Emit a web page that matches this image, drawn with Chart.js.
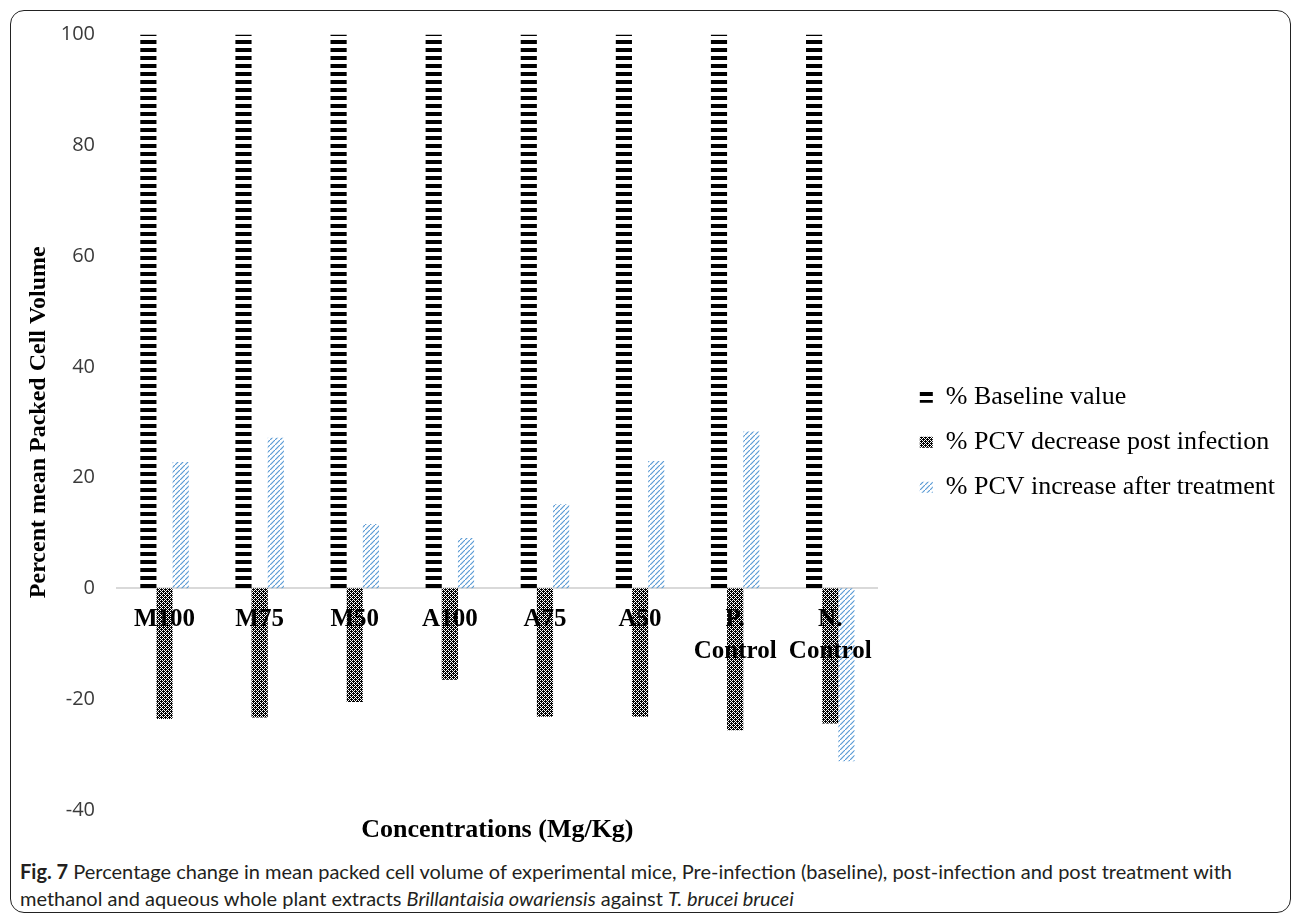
<!DOCTYPE html>
<html>
<head>
<meta charset="utf-8">
<title>Fig. 7</title>
<script src="https://cdn.jsdelivr.net/npm/chart.js@4.4.1/dist/chart.umd.min.js"></script>
<style>
    html, body { margin: 0; padding: 0; background: #fff; }
    body { width: 1293px; height: 915px; position: relative; overflow: hidden; }
    .figure-frame {
        position: absolute; left: 10px; top: 10px; width: 1281px; height: 903px;
        border: 1px solid #222; border-radius: 14px; box-sizing: border-box;
    }
    .pcv-chart { position: absolute; left: 0; top: 0; }
    .figure-caption {
        position: absolute; left: 20px; top: 858px;
        font-family: Lato, "Noto Sans", sans-serif; font-size: 20px; line-height: 27px;
        color: #231f20; white-space: nowrap;
    }
    .figure-caption b { font-weight: 700; }
</style>
</head>
<body>
<div class="figure-frame"></div>
<canvas class="pcv-chart" id="pcv" width="1293" height="850"></canvas>
<div class="figure-caption">
    <b>Fig. 7</b> Percentage change in mean packed cell volume of experimental mice, Pre-infection (baseline), post-infection and post treatment with<br>
    methanol and aqueous whole plant extracts <i>Brillantaisia owariensis</i> against <i>T. brucei brucei</i>
</div>
<script>
const categories = ['M100', 'M75', 'M50', 'A100', 'A75', 'A50', ['P.', 'Control'], ['N.', 'Control']];
const baselineValues = [100, 100, 100, 100, 100, 100, 100, 100];
const decreaseValues = [-23.6, -23.3, -20.5, -16.5, -23.2, -23.2, -25.6, -24.4];
const increaseValues = [22.8, 27.2, 11.6, 9.1, 15.2, 23.0, 28.3, -31.2];
const seriesNames = ['% Baseline value', '% PCV decrease post infection', '% PCV increase after treatment'];
const yTicks = [-40, -20, 0, 20, 40, 60, 80, 100];

const pcvChart = () => {
    const canvas = document.querySelector('#pcv');
    if (!canvas) return;

    function makePattern(size, draw) {
        const tile = document.createElement('canvas');
        tile.width = size[0];
        tile.height = size[1];
        draw(tile.getContext('2d'));
        return canvas.getContext('2d').createPattern(tile, 'repeat');
    }

    // black horizontal dashes
    const dashPattern = makePattern([8, 8], (ctx) => {
        ctx.fillStyle = '#000';
        ctx.fillRect(0, 0, 8, 4);
    });

    // dark checker with small white diamonds
    const checkPattern = makePattern([4, 4], (ctx) => {
        ctx.fillStyle = '#fff';
        ctx.fillRect(0, 0, 4, 4);
        ctx.fillStyle = '#000';
        [[1, 0], [0, 1], [1, 1], [2, 1], [1, 2], [3, 2], [2, 3], [3, 3], [0, 3], [3, 0]].forEach(p => {
            ctx.fillRect(p[0], p[1], 1, 1);
        });
    });

    // light blue diagonal hatch
    const hatchPattern = makePattern([5, 5], (ctx) => {
        ctx.strokeStyle = '#5b9bd5';
        ctx.lineWidth = 1.2;
        ctx.beginPath();
        ctx.moveTo(-1, 6);
        ctx.lineTo(6, -1);
        ctx.stroke();
    });

    new Chart(canvas, {
        type: 'bar',
        data: {
            labels: categories,
            datasets: [{
                label: seriesNames[0],
                data: baselineValues,
                backgroundColor: dashPattern,
                borderWidth: 0
            }, {
                label: seriesNames[1],
                data: decreaseValues,
                backgroundColor: checkPattern,
                borderWidth: 0
            }, {
                label: seriesNames[2],
                data: increaseValues,
                backgroundColor: hatchPattern,
                borderWidth: 0
            }]
        },
        options: {
            responsive: false,
            animation: false,
            devicePixelRatio: 1,
            categoryPercentage: 0.51,
            barPercentage: 1,
            layout: {
                padding: {
                    left: 0,
                    right: 8,
                    top: 34.5,
                    bottom: 0
                }
            },
            scales: {
                x: {
                    position: { y: 0 },
                    grid: {
                        display: false,
                        drawTicks: false
                    },
                    border: {
                        display: true,
                        color: '#d9d9d9',
                        width: 2
                    },
                    ticks: {
                        z: 1,
                        autoSkip: false,
                        maxRotation: 0,
                        padding: 15,
                        color: '#000',
                        font: {
                            family: '"Liberation Serif", "Times New Roman", serif',
                            size: 25,
                            weight: 'bold',
                            lineHeight: 1.28
                        }
                    }
                },
                y: {
                    min: -40,
                    max: 100,
                    afterFit: (scale) => { scale.width = 117; },
                    afterBuildTicks: (scale) => {
                        scale.ticks = yTicks.map(v => ({ value: v }));
                    },
                    grid: {
                        display: false,
                        drawTicks: false
                    },
                    border: {
                        display: false
                    },
                    ticks: {
                        padding: 22,
                        color: '#3a3a3a',
                        font: {
                            family: '"Open Sans", sans-serif',
                            size: 20
                        }
                    },
                    title: {
                        display: true,
                        text: 'Percent mean Packed Cell Volume',
                        color: '#000',
                        padding: { top: 24, bottom: 0 },
                        font: {
                            family: '"Liberation Serif", "Times New Roman", serif',
                            size: 24,
                            weight: 'bold'
                        }
                    }
                },
                gap: {
                    type: 'linear',
                    position: 'right',
                    afterFit: (scale) => { scale.width = 23; },
                    grid: { display: false, drawTicks: false },
                    border: { display: false },
                    ticks: { display: false }
                }
            },
            plugins: {
                tooltip: { enabled: false },
                legend: {
                    position: 'right',
                    align: 'center',
                    maxWidth: 500,
                    labels: {
                        boxWidth: 13,
                        boxHeight: 11,
                        padding: 19,
                        color: '#000',
                        font: {
                            family: '"Liberation Serif", "Times New Roman", serif',
                            size: 26
                        }
                    }
                },
                title: {
                    display: true,
                    position: 'bottom',
                    fullSize: false,
                    text: 'Concentrations (Mg/Kg)',
                    color: '#000',
                    padding: { top: 5, bottom: 3.9 },
                    font: {
                        family: '"Liberation Serif", "Times New Roman", serif',
                        size: 26,
                        weight: 'bold',
                        lineHeight: 1.2
                    }
                }
            }
        }
    });
};

pcvChart();
</script>
</body>
</html>
